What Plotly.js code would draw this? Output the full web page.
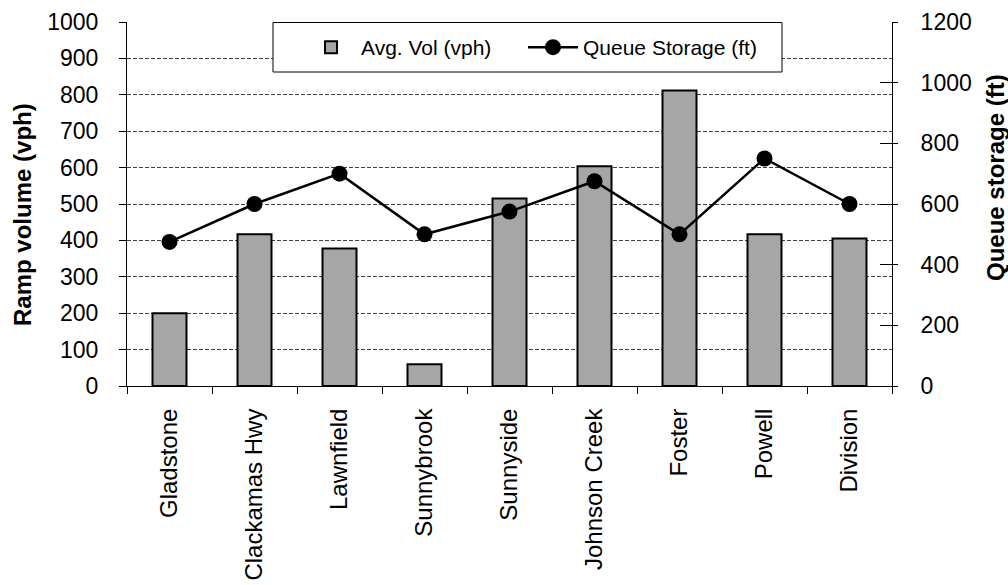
<!DOCTYPE html>
<html>
<head>
<meta charset="utf-8">
<script src="https://cdn.plot.ly/plotly-3.0.1.min.js"></script>
<style>html,body{margin:0;padding:0;background:#fff;}#chart{width:1008px;height:585px;}</style>
</head>
<body>
<div id="chart"></div>
<script>
const categories = ["Gladstone","Clackamas Hwy","Lawnfield","Sunnybrook","Sunnyside","Johnson Creek","Foster","Powell","Division"];
const avgVol = [200, 417, 378, 60, 515, 604, 812, 417, 405];
const queueStorage = [475, 600, 700, 500, 575, 675, 500, 750, 600];
const leftTicks = [0,100,200,300,400,500,600,700,800,900,1000];
const rightTicks = [0,200,400,600,800,1000,1200];

const FONT = "Liberation Sans, Arial, sans-serif";

// plot area in px: x 127..892, y 22..386
const L = 127, R = 892, T = 22, B = 386;
const px = v => (v - L) / (R - L);
const py = v => (B - v) / (B - T);

const traces = [
  {
    type: "bar", x: categories, y: avgVol, name: "Avg. Vol (vph)",
    width: 0.4, legend: "legend",
    marker: {color: "#a6a6a6", line: {color: "#000", width: 2}},
    hoverinfo: "x+y"
  },
  {
    type: "scatter", mode: "lines+markers", x: categories, y: queueStorage, yaxis: "y2",
    name: "Queue Storage (ft)", legend: "legend2",
    line: {color: "#000", width: 2.5},
    marker: {color: "#000", size: 16}
  },
  {
    // carrier for the inner half of the right-axis cross ticks
    type: "scatter", mode: "lines", x: categories, y: queueStorage, yaxis: "y3",
    line: {width: 0, color: "rgba(0,0,0,0)"}, opacity: 0, showlegend: false, hoverinfo: "skip"
  }
];

const legendBase = {
  orientation: "h", y: py(27), xanchor: "left", yanchor: "top",
  bgcolor: "rgba(0,0,0,0)", borderwidth: 0,
  font: {family: FONT, size: 21, color: "#000"},
  itemwidth: 50
};

const layout = {
  width: 1008, height: 585,
  margin: {l: L, r: 1008 - R, t: T, b: 585 - B, pad: 0},
  paper_bgcolor: "#fff", plot_bgcolor: "#fff",
  font: {family: FONT, color: "#000"},
  showlegend: true,
  legend: Object.assign({}, legendBase, {x: px(301)}),
  legend2: Object.assign({}, legendBase, {x: px(523)}),
  xaxis: {
    type: "category", range: [-0.5, categories.length - 0.5],
    tickson: "boundaries", ticks: "outside", ticklen: 7, tickcolor: "#000", tickwidth: 1,
    showline: true, linecolor: "#000", linewidth: 1, showgrid: false,
    tickangle: -90, tickfont: {family: FONT, size: 24, color: "#000"},
    ticklabelstandoff: 12, fixedrange: true
  },
  yaxis: {
    range: [0, 1000], tickvals: leftTicks, ticktext: leftTicks.map(String),
    showgrid: true, gridcolor: "#404040", gridwidth: 1, griddash: "4px,2px",
    ticks: "outside", ticklen: 7, tickcolor: "#000", showline: true, linecolor: "#000", linewidth: 1,
    zeroline: false, tickfont: {family: FONT, size: 23, color: "#000"}, ticklabelstandoff: 16
  },
  yaxis2: {
    overlaying: "y", side: "right", range: [0, 1200], tickvals: rightTicks, ticktext: rightTicks.map(String),
    showgrid: false, zeroline: false, ticks: "outside", ticklen: 5, tickcolor: "#000",
    showline: true, linecolor: "#000", linewidth: 1,
    tickfont: {family: FONT, size: 23, color: "#000"}, ticklabelstandoff: 18
  },
  yaxis3: {
    overlaying: "y", side: "right", range: [0, 1200], tickvals: rightTicks,
    showgrid: false, zeroline: false, ticks: "inside", ticklen: 12, tickcolor: "#000",
    showline: false, showticklabels: false
  },
  shapes: [
    {type: "rect", xref: "paper", yref: "paper", x0: px(273), x1: px(782), y0: py(72), y1: py(22.5),
     line: {color: "#000", width: 1}, fillcolor: "#fff", layer: "above"}
  ],
  annotations: [
    {text: "<b>Ramp volume (vph)</b>", xref: "paper", yref: "paper", x: px(22), y: py(214),
     xanchor: "center", yanchor: "middle", textangle: -90, showarrow: false,
     font: {family: FONT, size: 24, color: "#000"}},
    {text: "<b>Queue storage (ft)</b>", xref: "paper", yref: "paper", x: px(995), y: py(178),
     xanchor: "center", yanchor: "middle", textangle: -90, showarrow: false,
     font: {family: FONT, size: 24, color: "#000"}}
  ]
};

Plotly.newPlot("chart", traces, layout, {displayModeBar: false, staticPlot: true});
</script>
</body>
</html>
